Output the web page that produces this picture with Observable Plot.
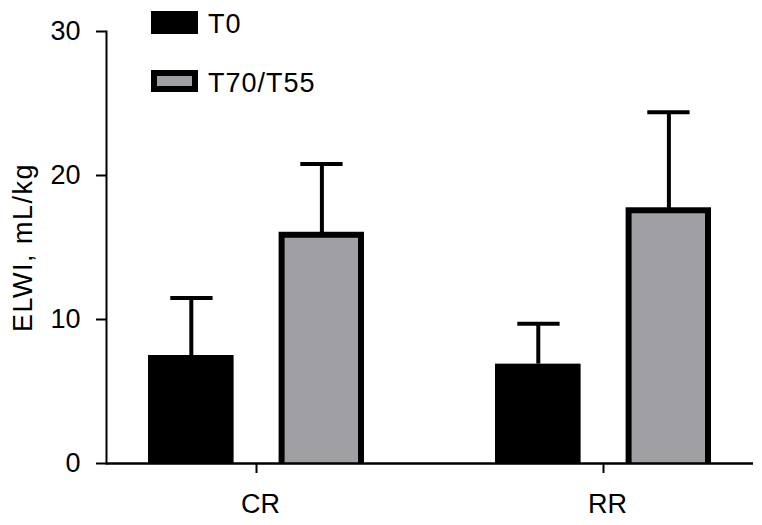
<!DOCTYPE html>
<html>
<head>
<meta charset="utf-8">
<script src="https://cdn.jsdelivr.net/npm/d3@7"></script>
<script src="https://cdn.jsdelivr.net/npm/@observablehq/plot@0.6"></script>
<style>
  html, body { margin: 0; padding: 0; background: #fff; }
  #wrap { position: relative; width: 762px; height: 525px; font-family: "Liberation Sans", Arial, sans-serif; }
  #legend { position: absolute; left: 0; top: 0; }
  .sw { position: absolute; box-sizing: border-box; width: 47px; }
  .lt { position: absolute; font-size: 27px; line-height: 27px; letter-spacing: 1px; color: #000; white-space: nowrap; }
</style>
</head>
<body>
<div id="wrap"><div id="legend"></div></div>
<script>
// ---- data ----
const groups = ["CR", "RR"];
const series = ["T0", "T70/T55"];
const t0Values = [7.5, 6.9];
const t0Errors = [4.0, 2.8];
const t70Values = [15.85, 17.55];
const t70Errors = [4.95, 6.85];
const yTicks = [0, 10, 20, 30];
const yLabel = "ELWI, mL/kg";

const t0Rows = groups.map((g, i) => ({group: g, series: series[0], value: t0Values[i], err: t0Errors[i]}));
const t70Rows = groups.map((g, i) => ({group: g, series: series[1], value: t70Values[i], err: t70Errors[i]}));

const gray = "#a09fa4";

const chart = Plot.plot({
  width: 762,
  height: 525,
  marginTop: 31,
  marginBottom: 62,
  marginLeft: 106,
  marginRight: 9,
  style: {fontFamily: '"Liberation Sans", Arial, sans-serif', fontSize: "27px", color: "#000", background: "#fff"},
  x: {domain: groups, paddingInner: 0.377, paddingOuter: 0.12, axis: null},
  y: {domain: [0, 30], axis: null},
  marks: [
    // error whiskers
    Plot.ruleX(t0Rows, {x: "group", y1: "value", y2: d => d.value + d.err, dx: -65.2, stroke: "#000", strokeWidth: 4}),
    Plot.ruleX(t70Rows, {x: "group", y1: "value", y2: d => d.value + d.err, dx: 65.4, stroke: "#000", strokeWidth: 4}),
    Plot.tickY(t0Rows, {x: "group", y: d => d.value + d.err, insetLeft: 22.3, insetRight: 151.4, stroke: "#000", strokeWidth: 4}),
    Plot.tickY(t70Rows, {x: "group", y: d => d.value + d.err, insetLeft: 152.3, insetRight: 21.4, stroke: "#000", strokeWidth: 4}),
    // bars
    Plot.barY(t0Rows, {x: "group", y: "value", fill: "#000", insetLeft: 0, insetRight: 130.4}),
    Plot.barY(t70Rows, {x: "group", y: "value", fill: gray, insetLeft: 133.6, insetRight: 3}),
    Plot.barY(t70Rows, {x: "group", y: "value", fill: "none", stroke: "#000", strokeWidth: 6, insetLeft: 133.6, insetRight: 3, insetBottom: -5, clip: true}),
    // axes
    Plot.frame({anchor: "left", stroke: "#000", strokeWidth: 2}),
    Plot.ruleY([0], {stroke: "#000", strokeWidth: 2.5}),
    Plot.axisY({ticks: yTicks, tickSize: 10, tickPadding: 16, strokeWidth: 2, stroke: "#000", fill: "#000",
      label: yLabel, labelAnchor: "center", labelOffset: 94, labelArrow: "none"}),
    Plot.axisX({tickSize: 10, tickPadding: 20, strokeWidth: 2, stroke: "#000", fill: "#000", label: null, textStroke: "none"}),
  ]
});

document.getElementById("wrap").insertBefore(chart, document.getElementById("legend"));

// y label letter spacing, slight x label offset as in reference
chart.querySelectorAll("text").forEach(t => {
  if (t.textContent.includes("ELWI")) t.style.letterSpacing = "1.5px";
  if (groups.includes(t.textContent)) t.setAttribute("dx", "4");
});

// legend (HTML overlay)
const legend = document.getElementById("legend");
const legendItems = [
  {label: series[0], fill: "#000", border: "none", swTop: 11, swH: 23, textTop: 10.5},
  {label: series[1], fill: gray, border: "6px solid #000", swTop: 70.3, swH: 22, textTop: 69.5}
];
legendItems.forEach(it => {
  const sw = document.createElement("div");
  sw.className = "sw";
  sw.style.left = "150.7px";
  sw.style.top = it.swTop + "px";
  sw.style.height = it.swH + "px";
  sw.style.background = it.fill;
  sw.style.border = it.border;
  legend.appendChild(sw);
  const tx = document.createElement("div");
  tx.className = "lt";
  tx.style.left = "208px";
  tx.style.top = it.textTop + "px";
  tx.textContent = it.label;
  legend.appendChild(tx);
});
</script>
</body>
</html>
